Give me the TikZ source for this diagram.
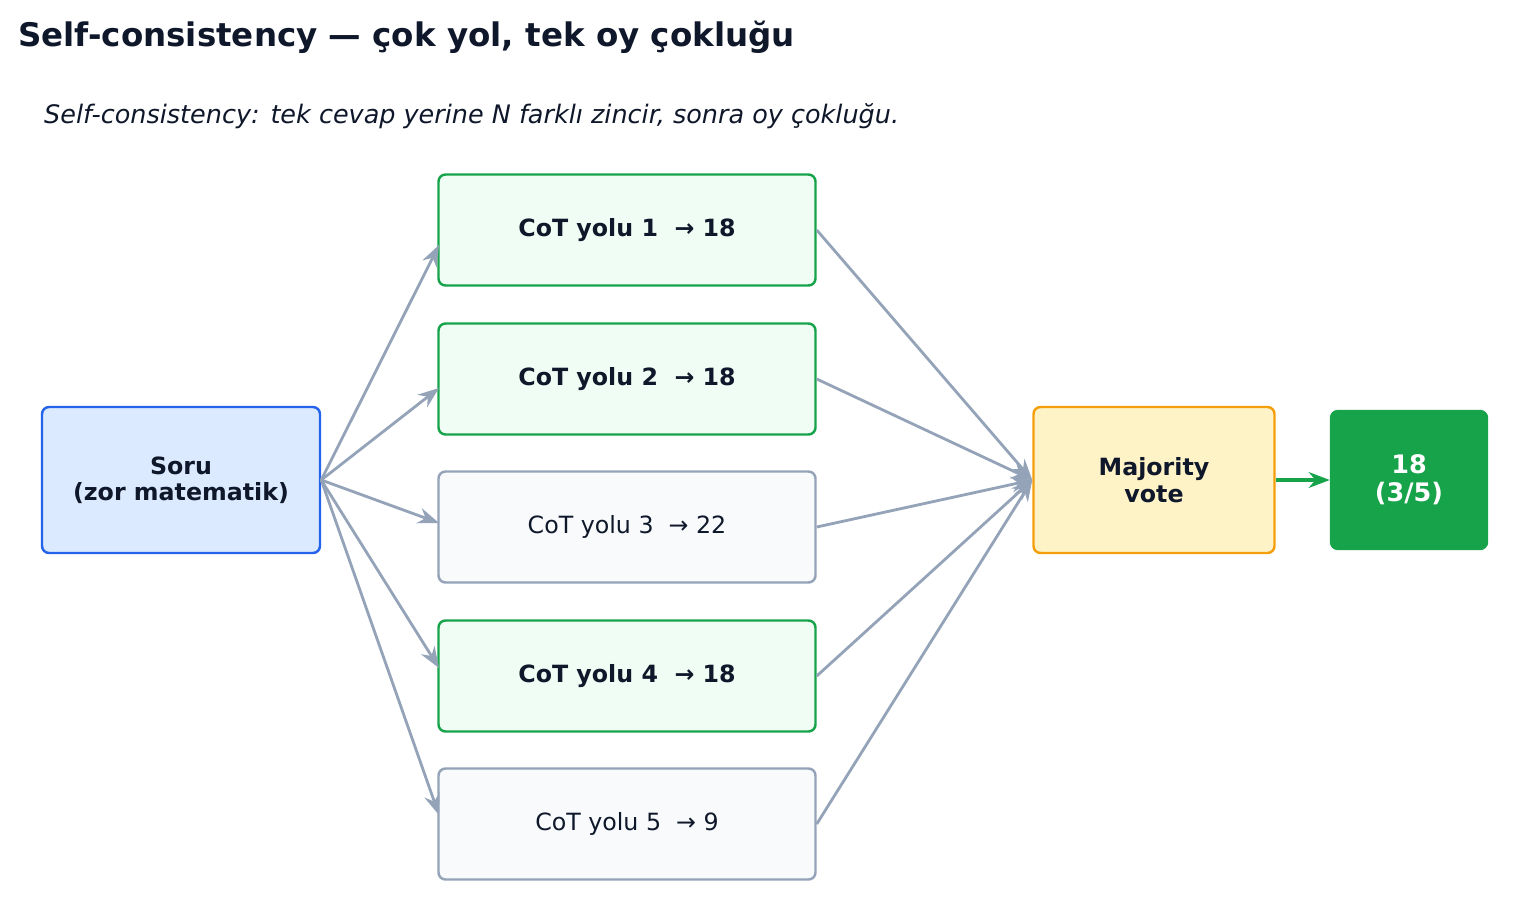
\documentclass[tikz,border=0pt]{standalone}
\usepackage{fontspec}
\setmainfont{DejaVu Sans}
\usetikzlibrary{positioning,arrows.meta}
\definecolor{ink}{HTML}{0F172A}
\definecolor{okline}{HTML}{16A34A}
\definecolor{okfill}{HTML}{F0FDF4}
\definecolor{grayline}{HTML}{94A3B8}
\definecolor{grayfill}{HTML}{F8FAFC}
\definecolor{qline}{HTML}{2563EB}
\definecolor{qfill}{HTML}{DBEAFE}
\definecolor{vline}{HTML}{F59E0B}
\definecolor{vfill}{HTML}{FEF3C7}
\begin{document}
\begin{tikzpicture}[x=0.02cm,y=-0.02cm]
\tikzstyle{box}=[rectangle, rounded corners=4pt, line width=1.4pt, align=center, text=ink, font=\fontsize{13.5}{15}\selectfont]
\tikzstyle{path ok}=[box, draw=okline, fill=okfill, minimum width=377*0.02cm, minimum height=111*0.02cm, font=\fontsize{13.5}{15}\selectfont\bfseries]
\tikzstyle{path off}=[box, draw=grayline, fill=grayfill, minimum width=377*0.02cm, minimum height=111*0.02cm]
\tikzstyle{connect}=[-{Stealth[length=12pt,width=9pt]}, line width=1.6pt, draw=grayline]
\useasboundingbox (0,0) rectangle (1528,916);
\node[anchor=west, text=ink, font=\fontsize{18.5}{20}\selectfont\bfseries] (title) at (12,37) {Self-consistency — çok yol, tek oy çokluğu};
\node[anchor=west, text=ink, font=\fontsize{14.5}{16}\selectfont\itshape] (sub) at (38,116) {Self-consistency: tek cevap yerine N farklı zincir, sonra oy çokluğu.};

\node[box, draw=qline, fill=qfill, minimum width=278*0.02cm, minimum height=146*0.02cm, font=\fontsize{13.5}{15}\selectfont\bfseries] (q) at (181,480) {Soru\\(zor matematik)};

\node[path ok] (p1) at (627,230) {CoT yolu 1 \ → 18};
\node[path ok] (p2) at (627,379) {CoT yolu 2 \ → 18};
\node[path off] (p3) at (627,527) {CoT yolu 3 \ → 22};
\node[path ok] (p4) at (627,676) {CoT yolu 4 \ → 18};
\node[path off] (p5) at (627,824) {CoT yolu 5 \ → 9};

\node[box, draw=vline, fill=vfill, minimum width=241*0.02cm, minimum height=146*0.02cm, font=\fontsize{13.5}{15}\selectfont\bfseries] (vote) at (1154,480) {Majority\\vote};
\node[box, draw=okline, fill=okline, text=white, minimum width=156*0.02cm, minimum height=138*0.02cm, font=\fontsize{14.5}{16}\selectfont\bfseries] (res) at (1409,480) {18\\(3/5)};

\foreach \i/\y in {1/245,2/388,3/523,4/668,5/815} {
  \draw[connect] (q.east) -- (439,\y);
  \draw[connect] (p\i.east) -- (vote.west);
}
\draw[-{Stealth[length=12pt,width=9pt]}, line width=1.8pt, draw=okline] (vote.east) -- (res.west);
\end{tikzpicture}
\end{document}
